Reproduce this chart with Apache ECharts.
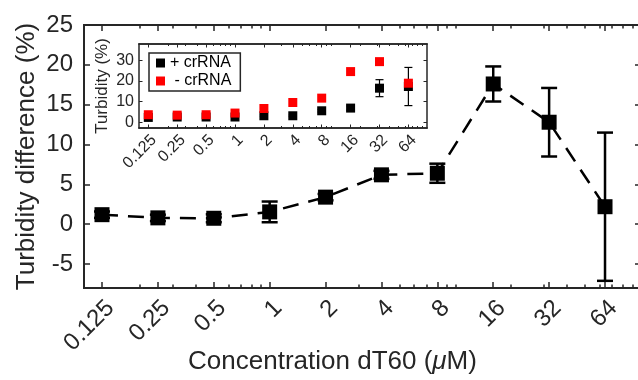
<!DOCTYPE html>
<html>
<head>
<meta charset="utf-8">
<script src="https://cdn.jsdelivr.net/npm/echarts@6/dist/echarts.min.js"></script>
<style>html,body{margin:0;padding:0;background:#fff}#c{width:638px;height:380px}</style>
</head>
<body>
<div id="c"></div>
<script>
const concentrations = [0.125, 0.25, 0.5, 1, 2, 4, 8, 16, 32, 64];
const xTickLabels = ['0.125', '0.25', '0.5', '1', '2', '4', '8', '16', '32', '64'];
const minorTickValues = [0.2, 0.3, 0.4, 0.5, 0.6, 0.7, 0.8, 0.9, 1, 2, 3, 4, 5, 6, 7, 8, 9, 10, 20, 30, 40, 50, 60, 70, 80, 90];
const yTicksMain = [-5, 0, 5, 10, 15, 20, 25];
const yTicksInset = [0, 10, 20, 30];

const diffMean = [1.2, 0.8, 0.75, 1.55, 3.4, 6.2, 6.4, 17.6, 12.8, 2.2];
const diffErr = [0.4, 0.4, 0.5, 1.3, 0.4, 0.5, 1.2, 2.2, 4.3, 9.3];

const plusMean = [2.4, 2.6, 2.6, 2.6, 3.2, 3.2, 5.6, 6.9, 16.5, 17.3];
const plusErr = [0.3, 0.3, 0.3, 0.3, 0.4, 0.4, 0.6, 1.0, 4.1, 9.2];
const minusMean = [3.7, 3.5, 3.7, 4.5, 6.7, 9.6, 11.7, 24.5, 29.3, 18.9];

const FONT = '"Liberation Sans", Arial, Helvetica, sans-serif';
const AX = '#262626';

function labelFor(v) {
  let best = 0, bd = Infinity;
  concentrations.forEach((c, i) => { const d = Math.abs(Math.log(c) - Math.log(v)); if (d < bd) { bd = d; best = i; } });
  return xTickLabels[best];
}

function errRender(capW, lw) {
  return function (params, api) {
    const x = api.value(0), lo = api.value(1), hi = api.value(2);
    const p1 = api.coord([x, hi]), p2 = api.coord([x, lo]);
    const h = capW / 2;
    const st = { stroke: '#000', lineWidth: lw };
    return {
      type: 'group', children: [
        { type: 'line', shape: { x1: p1[0], y1: p1[1], x2: p2[0], y2: p2[1] }, style: st },
        { type: 'line', shape: { x1: p1[0] - h, y1: p1[1], x2: p1[0] + h, y2: p1[1] }, style: st },
        { type: 'line', shape: { x1: p2[0] - h, y1: p2[1], x2: p2[0] + h, y2: p2[1] }, style: st }
      ]
    };
  };
}

function xAxisDef(grid, pos, kind, o) {
  const big = grid === 0;
  const ax = {
    type: 'log', logBase: 2, gridIndex: grid, min: 0.1, max: 100, position: pos,
    axisLine: { show: true, onZero: false, lineStyle: { color: AX, width: big ? 2 : 1.5 } },
    splitLine: { show: false }, minorTick: { show: false },
    axisTick: {
      show: true, inside: true,
      length: kind === 'major' ? (big ? 6 : 3.5) : (big ? 3.5 : 2),
      lineStyle: { color: AX, width: big ? 1.5 : 1 },
      customValues: kind === 'major' ? concentrations : minorTickValues
    },
    axisLabel: { show: false }
  };
  if (kind === 'major' && pos === 'bottom') {
    ax.axisLabel = {
      show: true, customValues: concentrations, rotate: 45, verticalAlign: 'top',
      margin: big ? 8 : 4, fontSize: big ? 24 : 16, color: AX, fontFamily: FONT,
      formatter: labelFor
    };
  }
  return Object.assign(ax, o || {});
}

function yAxisDef(grid, pos, o) {
  const big = grid === 0;
  const ticks = big ? yTicksMain : yTicksInset;
  const ax = {
    type: 'value', gridIndex: grid, position: pos,
    min: big ? -8 : -2.7, max: big ? 25 : 37.8,
    axisLine: { show: true, onZero: false, lineStyle: { color: AX, width: big ? 2 : 1.5 } },
    splitLine: { show: false },
    axisTick: { show: true, inside: true, length: big ? 6 : 3.5, lineStyle: { color: AX, width: big ? 1.5 : 1 }, customValues: ticks },
    axisLabel: pos === 'left' ? { show: true, customValues: ticks, margin: big ? 11 : 5, fontSize: big ? 24 : 16, color: AX, fontFamily: FONT } : { show: false }
  };
  return Object.assign(ax, o || {});
}

const chart = echarts.init(document.getElementById('c'), null, { renderer: 'canvas' });

const option = {
  animation: false,
  backgroundColor: '#fff',
  textStyle: { fontFamily: FONT },
  grid: [
    { left: 84, top: 25, width: 557, height: 263, containLabel: false, outerBoundsMode: 'none' },
    { left: 139, top: 44, width: 288, height: 84, containLabel: false, outerBoundsMode: 'none', show: true, backgroundColor: '#fff', borderWidth: 0, z: 5 }
  ],
  xAxis: [
    xAxisDef(0, 'bottom', 'major', {
      name: 'Concentration dT60 ({i|μ}M)', nameLocation: 'middle', nameGap: 61, nameMoveOverlap: false,
      nameTextStyle: { fontSize: 26, color: AX, fontFamily: FONT, padding: [0, 60, 0, 0], rich: { i: { fontStyle: 'italic', fontSize: 26, color: AX, fontFamily: FONT } } }
    }),
    xAxisDef(0, 'bottom', 'minor'),
    xAxisDef(0, 'top', 'major'),
    xAxisDef(0, 'top', 'minor'),
    xAxisDef(1, 'bottom', 'major', { z: 6 }),
    xAxisDef(1, 'bottom', 'minor', { z: 6 }),
    xAxisDef(1, 'top', 'major', { z: 6 }),
    xAxisDef(1, 'top', 'minor', { z: 6 })
  ],
  yAxis: [
    yAxisDef(0, 'left', {
      name: 'Turbidity difference (%)', nameLocation: 'middle', nameGap: 44, nameMoveOverlap: false,
      nameTextStyle: { fontSize: 26, color: AX, fontFamily: FONT }
    }),
    yAxisDef(0, 'right'),
    yAxisDef(1, 'left', {
      name: 'Turbidity (%)', nameLocation: 'middle', nameGap: 28, nameMoveOverlap: false, z: 6,
      nameTextStyle: { fontSize: 17, color: AX, fontFamily: FONT }
    }),
    yAxisDef(1, 'right', { z: 6 })
  ],
  legend: {
    data: ['+ crRNA', ' - crRNA'],
    left: 149, top: 53, orient: 'vertical', icon: 'rect',
    itemWidth: 9, itemHeight: 9, itemGap: 2,
    padding: [2, 9, 2, 7],
    borderColor: AX, borderWidth: 1.5, backgroundColor: '#fff',
    textStyle: { fontSize: 16, color: '#000', fontFamily: FONT },
    z: 10
  },
  series: [
    {
      type: 'line', name: 'diff', xAxisIndex: 0, yAxisIndex: 0,
      data: concentrations.map((c, i) => [c, diffMean[i]]),
      lineStyle: { color: '#000', width: 2.5, type: [16, 10] },
      symbol: 'rect', symbolSize: 15, itemStyle: { color: '#000', opacity: 1 }, z: 2
    },
    {
      type: 'custom', name: 'diffErr', xAxisIndex: 0, yAxisIndex: 0,
      renderItem: errRender(16, 2.5),
      encode: { x: 0, y: [1, 2] },
      data: concentrations.map((c, i) => [c, diffMean[i] - diffErr[i], diffMean[i] + diffErr[i]]),
      z: 3
    },
    {
      type: 'custom', name: 'plusErr', xAxisIndex: 4, yAxisIndex: 2,
      renderItem: errRender(8, 1.2),
      encode: { x: 0, y: [1, 2] },
      data: concentrations.map((c, i) => [c, plusMean[i] - plusErr[i], plusMean[i] + plusErr[i]]),
      z: 7
    },
    {
      type: 'scatter', name: '+ crRNA', xAxisIndex: 4, yAxisIndex: 2,
      data: concentrations.map((c, i) => [c, plusMean[i]]),
      symbol: 'rect', symbolSize: 9, itemStyle: { color: '#000', opacity: 1 }, z: 8
    },
    {
      type: 'scatter', name: ' - crRNA', xAxisIndex: 4, yAxisIndex: 2,
      data: concentrations.map((c, i) => [c, minusMean[i]]),
      symbol: 'rect', symbolSize: 9, itemStyle: { color: '#ff0000', opacity: 1 }, z: 9
    }
  ]
};
chart.setOption(option);
</script>
</body>
</html>
